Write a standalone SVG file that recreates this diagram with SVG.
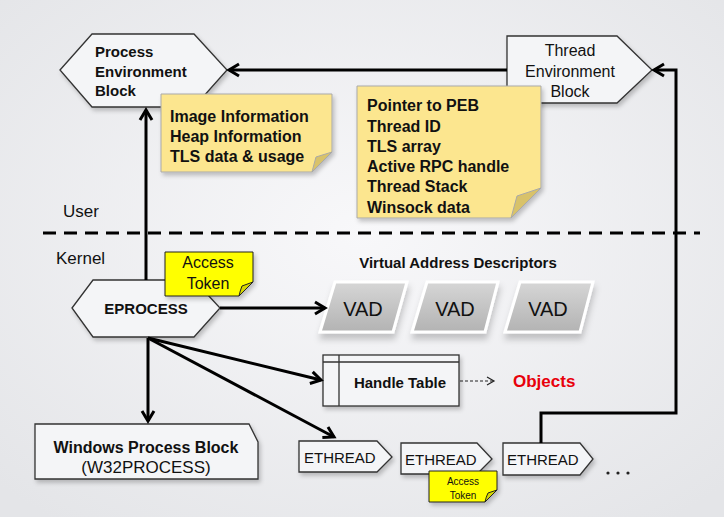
<svg xmlns="http://www.w3.org/2000/svg" width="724" height="517" viewBox="0 0 724 517">
<defs>
<radialGradient id="bg" cx="50%" cy="45%" r="70%"><stop offset="0" stop-color="#f8f8fa"/><stop offset="1" stop-color="#e4e5e8"/></radialGradient>
<linearGradient id="vadg" x1="0" y1="0" x2="0" y2="1"><stop offset="0" stop-color="#d6d6d6"/><stop offset="1" stop-color="#b3b3b3"/></linearGradient>
<filter id="sh" x="-10%" y="-15%" width="130%" height="150%"><feDropShadow dx="2" dy="3" stdDeviation="2" flood-color="#000" flood-opacity="0.22"/></filter>
<filter id="vsh" x="-10%" y="-15%" width="130%" height="160%"><feDropShadow dx="1" dy="6" stdDeviation="3" flood-color="#000" flood-opacity="0.2"/></filter>
<marker id="ah" markerUnits="userSpaceOnUse" markerWidth="18" markerHeight="18" refX="13" refY="9" orient="auto"><path d="M3,3 L13,9 L3,15" fill="none" stroke="#000" stroke-width="3"/></marker>
<marker id="ahs" markerUnits="userSpaceOnUse" markerWidth="12" markerHeight="12" refX="9" refY="6" orient="auto"><path d="M2,2 L9,6 L2,10" fill="none" stroke="#222" stroke-width="1.2"/></marker>
</defs>
<style>
.shp{fill:#f4f5f7;stroke:#333;stroke-width:1.3}
.t{font-family:"Liberation Sans",Arial,sans-serif;fill:#111}
.b{font-weight:bold}
.m{text-anchor:middle}
.c{stroke:#000;stroke-width:3;fill:none}
.note{fill:#fce68f;stroke:#a9a9a9;stroke-width:1}
.fold{fill:#d8c26a;stroke:#a9a9a9;stroke-width:1}
.tok{fill:#ffff00;stroke:#222;stroke-width:1}
.tokf{fill:#d6d600;stroke:#222;stroke-width:1}
.vad{fill:url(#vadg);stroke:#fff;stroke-width:3}
</style>
<rect width="724" height="517" fill="url(#bg)"/>

<g id="labels">
<text class="t" x="63" y="217" font-size="17">User</text>
<text class="t" x="56" y="264" font-size="17">Kernel</text>
<path d="M43,233 H700" stroke="#000" stroke-width="3" stroke-dasharray="13 8" fill="none"/>
</g>

<g id="peb">
<path class="shp" filter="url(#sh)" d="M60,70 L92,34 H194 L227,70 L194,107 H92 Z"/>
<text class="t b" font-size="15"><tspan x="95" y="57">Process</tspan><tspan x="95" y="77">Environment</tspan><tspan x="95" y="96">Block</tspan></text>
</g>

<g id="peb-note">
<path class="note" filter="url(#sh)" d="M161,94 H332 V152 L312,172 H161 Z"/>
<path class="fold" d="M332,152 L316,157 Q314,164 312,172 Z"/>
<text class="t b" font-size="16"><tspan x="170" y="122">Image Information</tspan><tspan x="170" y="142">Heap Information</tspan><tspan x="170" y="162">TLS data &amp; usage</tspan></text>
</g>

<g id="teb">
<path class="shp" filter="url(#sh)" d="M507,36 H617 L652,70 L617,103 H507 Z"/>
<text class="t m" font-size="16"><tspan x="570" y="56">Thread</tspan><tspan x="570" y="77">Environment</tspan><tspan x="570" y="97">Block</tspan></text>
</g>

<g id="teb-note">
<path class="note" filter="url(#sh)" d="M357,86 H541 V188 L511,218 H357 Z"/>
<path class="fold" d="M541,188 L517,196 Q514,207 511,218 Z"/>
<text class="t b" font-size="16"><tspan x="367" y="111">Pointer to PEB</tspan><tspan x="367" y="132">Thread ID</tspan><tspan x="367" y="152">TLS array</tspan><tspan x="367" y="172">Active RPC handle</tspan><tspan x="367" y="192">Thread Stack</tspan><tspan x="367" y="213">Winsock data</tspan></text>
</g>

<g id="eprocess">
<path class="shp" filter="url(#sh)" d="M72,308 L93,280 H194 L220,308 L194,337 H93 Z"/>
<text class="t b m" x="146" y="314" font-size="15">EPROCESS</text>
</g>

<g id="access-token">
<path class="tok" filter="url(#sh)" d="M165,252 H253 V282 L239,296 H165 Z"/>
<path class="tokf" d="M253,282 L242,286 Q240,291 239,296 Z"/>
<text class="t m" font-size="16"><tspan x="208" y="268">Access</tspan><tspan x="208" y="289">Token</tspan></text>
</g>

<g id="vads">
<text class="t b m" x="458" y="268" font-size="15">Virtual Address Descriptors</text>
<g id="vad1"><path class="vad" filter="url(#vsh)" d="M335,282 H407 L393,332 H320 Z"/><text class="t m" x="363" y="316" font-size="20">VAD</text></g>
<g id="vad2"><path class="vad" filter="url(#vsh)" d="M427,282 H498 L485,332 H412 Z"/><text class="t m" x="455" y="316" font-size="20">VAD</text></g>
<g id="vad3"><path class="vad" filter="url(#vsh)" d="M520,282 H593 L580,332 H505 Z"/><text class="t m" x="548" y="316" font-size="20">VAD</text></g>
</g>

<g id="handle-table">
<rect class="shp" filter="url(#sh)" x="323" y="355" width="136" height="51"/>
<path d="M323,362 H459 M339,355 V406" stroke="#333" stroke-width="1.3" fill="none"/>
<text class="t b m" x="400" y="388" font-size="15">Handle Table</text>
</g>

<g id="objects">
<text class="t b" x="513" y="387" font-size="17" style="fill:#e8000b">Objects</text>
</g>

<g id="w32process">
<path class="shp" filter="url(#sh)" d="M35,424 H249 L258,442 V479 H35 Z"/>
<text class="t m" font-size="16"><tspan x="146" y="453" font-weight="bold">Windows Process Block</tspan><tspan x="146" y="473" font-size="17">(W32PROCESS)</tspan></text>
</g>

<g id="ethread1">
<path class="shp" filter="url(#sh)" d="M299,441 H377 L392,457 L377,472 H299 Z"/>
<text class="t" x="304" y="463" font-size="15">ETHREAD</text>
</g>
<g id="ethread2">
<path class="shp" filter="url(#sh)" d="M401,443 H477 L492,459 L477,474 H401 Z"/>
<text class="t" x="405" y="465" font-size="15">ETHREAD</text>
</g>
<g id="ethread2-token">
<path class="tok" filter="url(#sh)" d="M429,471 H497 V490 L485,502 H429 Z"/>
<path class="tokf" d="M497,490 L488,493 Q486,497 485,502 Z"/>
<text class="t m" font-size="10"><tspan x="463" y="485">Access</tspan><tspan x="463" y="499">Token</tspan></text>
</g>
<g id="ethread3">
<path class="shp" filter="url(#sh)" d="M503,443 H580 L593,459 L580,475 H503 Z"/>
<text class="t" x="507" y="465" font-size="15">ETHREAD</text>
</g>
<g id="more">
<circle cx="608" cy="473" r="1.6" fill="#222"/><circle cx="618" cy="473" r="1.6" fill="#222"/><circle cx="628" cy="473" r="1.6" fill="#222"/>
</g>

<g id="connectors">
<path class="c" d="M507,70 H229" marker-end="url(#ah)"/>
<path class="c" d="M541,443 V413 H676 V70 H654" marker-end="url(#ah)"/>
<path class="c" d="M146,280 V110" marker-end="url(#ah)"/>
<path class="c" d="M220,308 H325" marker-end="url(#ah)"/>
<path class="c" d="M148,338 V421" marker-end="url(#ah)"/>
<path class="c" d="M148,338 L321,380" marker-end="url(#ah)"/>
<path class="c" d="M148,338 L334,437" marker-end="url(#ah)"/>
<path d="M460,381 H494" stroke="#222" stroke-width="1.2" stroke-dasharray="3 2" fill="none" marker-end="url(#ahs)"/>
</g>
</svg>
